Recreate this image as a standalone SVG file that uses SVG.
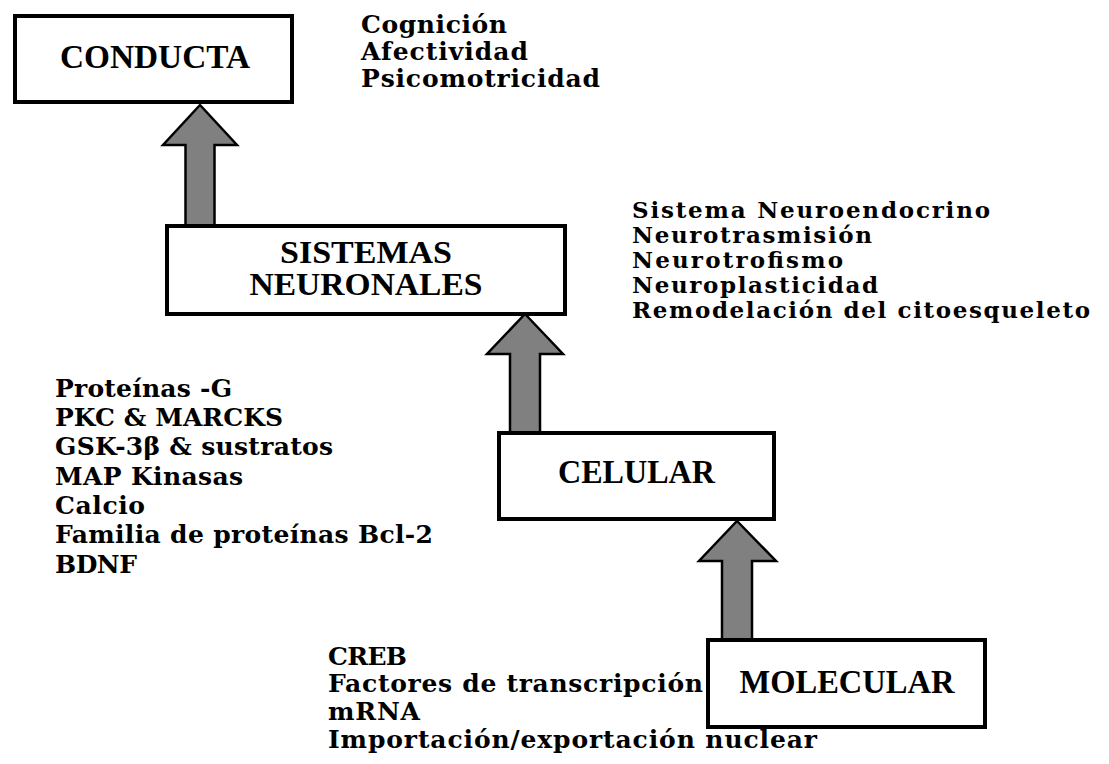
<svg xmlns="http://www.w3.org/2000/svg" width="1109" height="764" viewBox="0 0 1109 764">
<style>
.box{fill:#fff;stroke:#000;stroke-width:4}
.lbl{font-family:"Liberation Serif","Times New Roman",serif;font-weight:bold;font-size:33px;fill:#000;text-anchor:middle}
.lbl2{font-size:31px}
.lst{font-family:"DejaVu Serif","Liberation Serif",serif;font-weight:bold;fill:#000}
.arr{fill:#808080;stroke:#000;stroke-width:2.5;stroke-linejoin:miter}
</style>
<rect width="1109" height="764" fill="#fff"/>
<g id="connectors">
<path class="arr" d="M200,105 L237,145 L214.5,145 L214.5,226 L185.5,226 L185.5,145 L163,145 Z"/>
<path class="arr" d="M525,314 L563,354 L540,354 L540,434 L510,434 L510,354 L487,354 Z"/>
<path class="arr" d="M737,521 L776,561 L752,561 L752,641 L722,641 L722,561 L699,561 Z"/>
</g>
<g id="conducta">
<rect class="box" x="15" y="16" width="277" height="86"/>
<text class="lbl" x="155" y="68" textLength="190" lengthAdjust="spacingAndGlyphs">CONDUCTA</text>
</g>
<g id="sistemas">
<rect class="box" x="167" y="226" width="398" height="88"/>
<text class="lbl lbl2" x="366" y="263" textLength="172" lengthAdjust="spacingAndGlyphs">SISTEMAS</text>
<text class="lbl lbl2" x="366" y="295" textLength="233" lengthAdjust="spacingAndGlyphs">NEURONALES</text>
</g>
<g id="celular">
<rect class="box" x="499" y="433" width="275" height="86"/>
<text class="lbl" x="636.5" y="483" textLength="157" lengthAdjust="spacingAndGlyphs">CELULAR</text>
</g>
<g id="molecular">
<rect class="box" x="708" y="640" width="277" height="87"/>
<text class="lbl" x="847" y="693" textLength="215" lengthAdjust="spacingAndGlyphs">MOLECULAR</text>
</g>
<g id="conducta-items" class="lst" font-size="25">
<text x="361" y="33" textLength="146">Cognición</text>
<text x="361" y="60" textLength="167">Afectividad</text>
<text x="361" y="87" textLength="239">Psicomotricidad</text>
</g>
<g id="sistemas-items" class="lst" font-size="23">
<text x="632" y="218" textLength="358">Sistema Neuroendocrino</text>
<text x="632" y="243" textLength="240">Neurotrasmisión</text>
<text x="632" y="268" textLength="211">Neurotrofismo</text>
<text x="632" y="293" textLength="246">Neuroplasticidad</text>
<text x="632" y="318" textLength="458">Remodelación del citoesqueleto</text>
</g>
<g id="celular-items" class="lst" font-size="25">
<text x="55" y="397" textLength="177">Proteínas -G</text>
<text x="55" y="426" textLength="228">PKC &amp; MARCKS</text>
<text x="55" y="455" textLength="278">GSK-3β &amp; sustratos</text>
<text x="55" y="485" textLength="188">MAP Kinasas</text>
<text x="55" y="514" textLength="90">Calcio</text>
<text x="55" y="543" textLength="378">Familia de proteínas Bcl-2</text>
<text x="55" y="573" textLength="82">BDNF</text>
</g>
<g id="molecular-items" class="lst" font-size="25">
<text x="328" y="665" textLength="79">CREB</text>
<text x="328" y="692" textLength="375">Factores de transcripción</text>
<text x="328" y="720" textLength="92">mRNA</text>
<text x="328" y="748" textLength="489">Importación/exportación nuclear</text>
</g>
</svg>
